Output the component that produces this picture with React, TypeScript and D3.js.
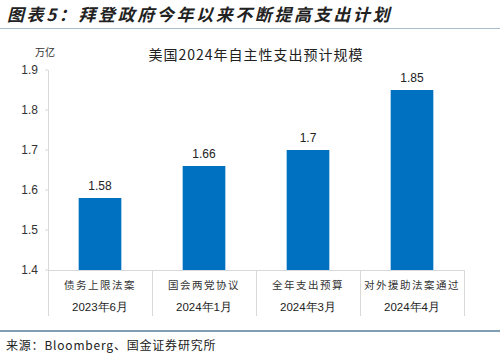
import React from "react";
import * as d3 from "d3";

const categories = ["债务上限法案", "国会两党协议", "全年支出预算", "对外援助法案通过"];
const dates = ["2023年6月", "2024年1月", "2024年3月", "2024年4月"];
const values = [1.58, 1.66, 1.7, 1.85];
const yTicks = [1.4, 1.5, 1.6, 1.7, 1.8, 1.9];

const W = 500, H = 359;
const left = 48, right = 464, top = 70, bottom = 270;
const cjk = "'Noto Sans CJK SC', 'Noto Sans', sans-serif";
const latin = "Arial, 'Liberation Sans', sans-serif";

export default function App() {
  const x = d3.scaleBand<string>().domain(categories).range([left, right]).paddingInner(0.59).paddingOuter(0.295);
  const y = d3.scaleLinear().domain([1.4, 1.9]).range([bottom, top]);
  const sep = d3.range(categories.length + 1).map((i) => left + (i * (right - left)) / categories.length);
  return (
    <svg width={W} height={H} style={{ position: "absolute", left: 0, top: 0, background: "#fff" }}>
      <text x={7} y={21} fontFamily={cjk} fontSize={17} fontWeight="bold" fontStyle="italic" fill="#222" letterSpacing={2.6}>
        图表5：拜登政府今年以来不断提高支出计划
      </text>
      <line x1={0} x2={W} y1={28.5} y2={28.5} stroke="#a9bccb" strokeWidth={1} />
      <text x={35} y={56} fontFamily={cjk} fontSize={10} fill="#333">万亿</text>
      <text x={256} y={60} textAnchor="middle" fontFamily={cjk} fontSize={14} fill="#222" letterSpacing={1}>
        美国2024年自主性支出预计规模
      </text>
      {yTicks.map((t) => (
        <g key={t}>
          <text x={38} y={y(t) + 4} textAnchor="end" fontFamily={latin} fontSize={12} fill="#333">{d3.format(".1f")(t)}</text>
          <line x1={45} x2={48} y1={y(t)} y2={y(t)} stroke="#d9d9d9" />
        </g>
      ))}
      <line x1={48.5} x2={48.5} y1={top} y2={316} stroke="#d9d9d9" />
      <line x1={left} x2={right} y1={bottom + 0.5} y2={bottom + 0.5} stroke="#d9d9d9" />
      {sep.slice(1).map((s, i) => (
        <line key={i} x1={s + 0.5} x2={s + 0.5} y1={bottom} y2={316} stroke="#d9d9d9" />
      ))}
      {categories.map((c, i) => {
        const bx = x(c)!;
        const bw = x.bandwidth();
        const cx = bx + bw / 2;
        return (
          <g key={c}>
            <rect x={bx} y={y(values[i])} width={bw} height={bottom - y(values[i])} fill="#0070c0" />
            <text x={cx} y={y(values[i]) - 8} textAnchor="middle" fontFamily={latin} fontSize={12} fill="#222">{values[i]}</text>
            <text x={cx} y={289} textAnchor="middle" fontFamily={cjk} fontSize={10.5} fill="#333" letterSpacing={1.5}>{c}</text>
            <text x={cx} y={311} textAnchor="middle" fontFamily={latin} fontSize={11.5} fill="#222">{dates[i]}</text>
          </g>
        );
      })}
      <line x1={0} x2={W} y1={331} y2={331} stroke="#7f9db3" strokeWidth={2} />
      <text x={6} y={350} fontFamily={cjk} fontSize={12} fill="#222" letterSpacing={0.8}>来源：Bloomberg、国金证券研究所</text>
    </svg>
  );
}
